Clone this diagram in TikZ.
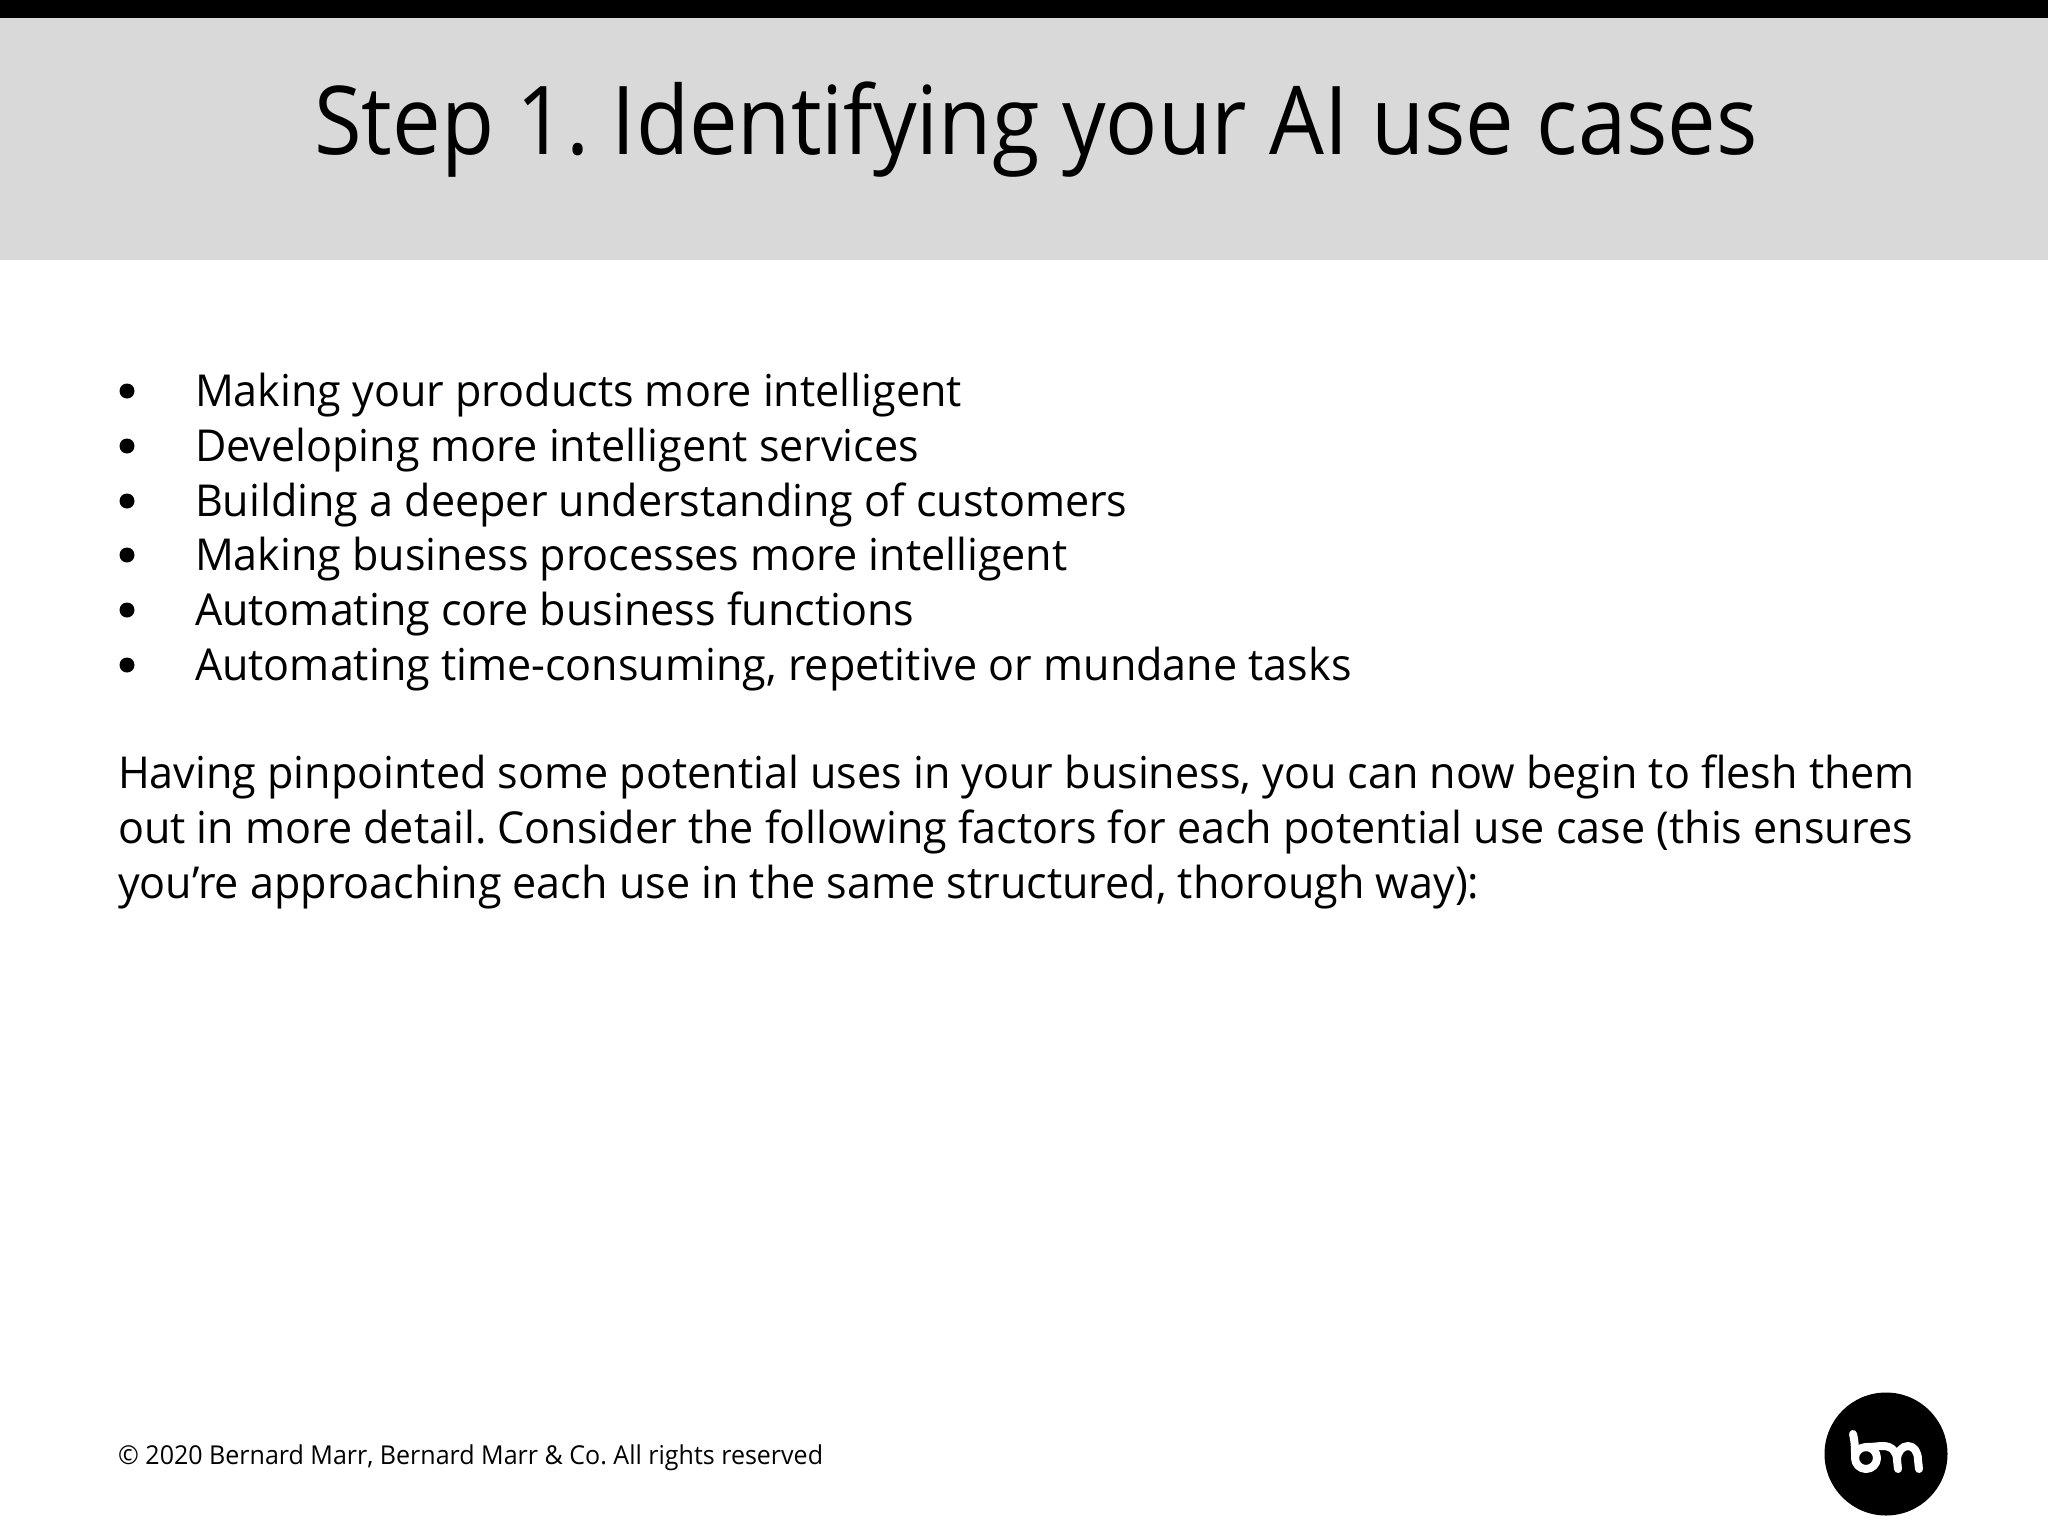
\documentclass[tikz,border=0pt]{standalone}
\usepackage{fontspec}
\setmainfont{Open Sans}
\newfontfamily\ttlfont[FakeStretch=0.913]{Open Sans}
\newfontfamily\txtfont[FakeStretch=0.979]{Open Sans}
\newfontfamily\ftrfont[FakeStretch=0.962]{Open Sans}
\definecolor{bandgray}{HTML}{D9D9D9}
\tikzset{
  x=1pt,y=-1pt,
  txt/.style={anchor=base west,inner sep=0pt,outer sep=0pt,text=black,font=\txtfont\fontsize{44}{50}\selectfont\frenchspacing},
  ftr/.style={anchor=base west,inner sep=0pt,text=black,font=\ftrfont\fontsize{26}{32}\selectfont\frenchspacing},
  ttl/.style={anchor=base west,inner sep=0pt,text=black,font=\ttlfont\fontsize{95}{110}\selectfont\frenchspacing},
  logostroke/.style={draw=white,line width=8pt,line cap=round,line join=round}
}
\begin{document}
\begin{tikzpicture}
\useasboundingbox (0,0) rectangle (2048,1536);
\fill[white] (0,0) rectangle (2048,1536);
\fill[black] (0,0) rectangle (2048,18);
\fill[bandgray] (0,18) rectangle (2048,260);
\node[ttl] (title) at (314,154) {Step 1. Identifying your AI use cases};
\foreach \nm/\yy/\tx in {
 a/406/Making your products more intelligent,
 b/461/Developing more intelligent services,
 c/516/Building a deeper understanding of customers,
 d/570/Making business processes more intelligent,
 e/625/Automating core business functions,
 f/680/{Automating time-consuming, repetitive or mundane tasks}}{
  \fill (127,\yy-15) circle (7.5);
  \node[txt] (\nm) at (195,\yy) {\tx};
}
\node[txt] (p1) at (118,788) {Having pinpointed some potential uses in your business, you can now begin to flesh them};
\node[txt] (p2) at (118,843) {out in more detail. Consider the following factors for each potential use case (this ensures};
\node[txt] (p3) at (118,898) {you’re approaching each use in the same structured, thorough way):};
\node[ftr] (foot) at (118,1464) {© 2020 Bernard Marr, Bernard Marr \& Co. All rights reserved};
\fill[black] (1886,1454) circle (61.5);
\draw[logostroke] (1853,1434) .. controls (1855,1442) and (1855,1450) .. (1855,1458)
  arc[start angle=180,end angle=-180,radius=11];
\draw[logostroke] (1866,1447) .. controls (1874,1447) and (1878,1446) .. (1883,1446)
  .. controls (1892,1446) and (1897,1452) .. (1897,1460) -- (1898,1469);
\draw[logostroke] (1897,1460) .. controls (1897,1452) and (1902,1446) .. (1908,1446)
  .. controls (1914,1446) and (1918,1452) .. (1918,1460) -- (1919,1469);
\end{tikzpicture}
\end{document}
